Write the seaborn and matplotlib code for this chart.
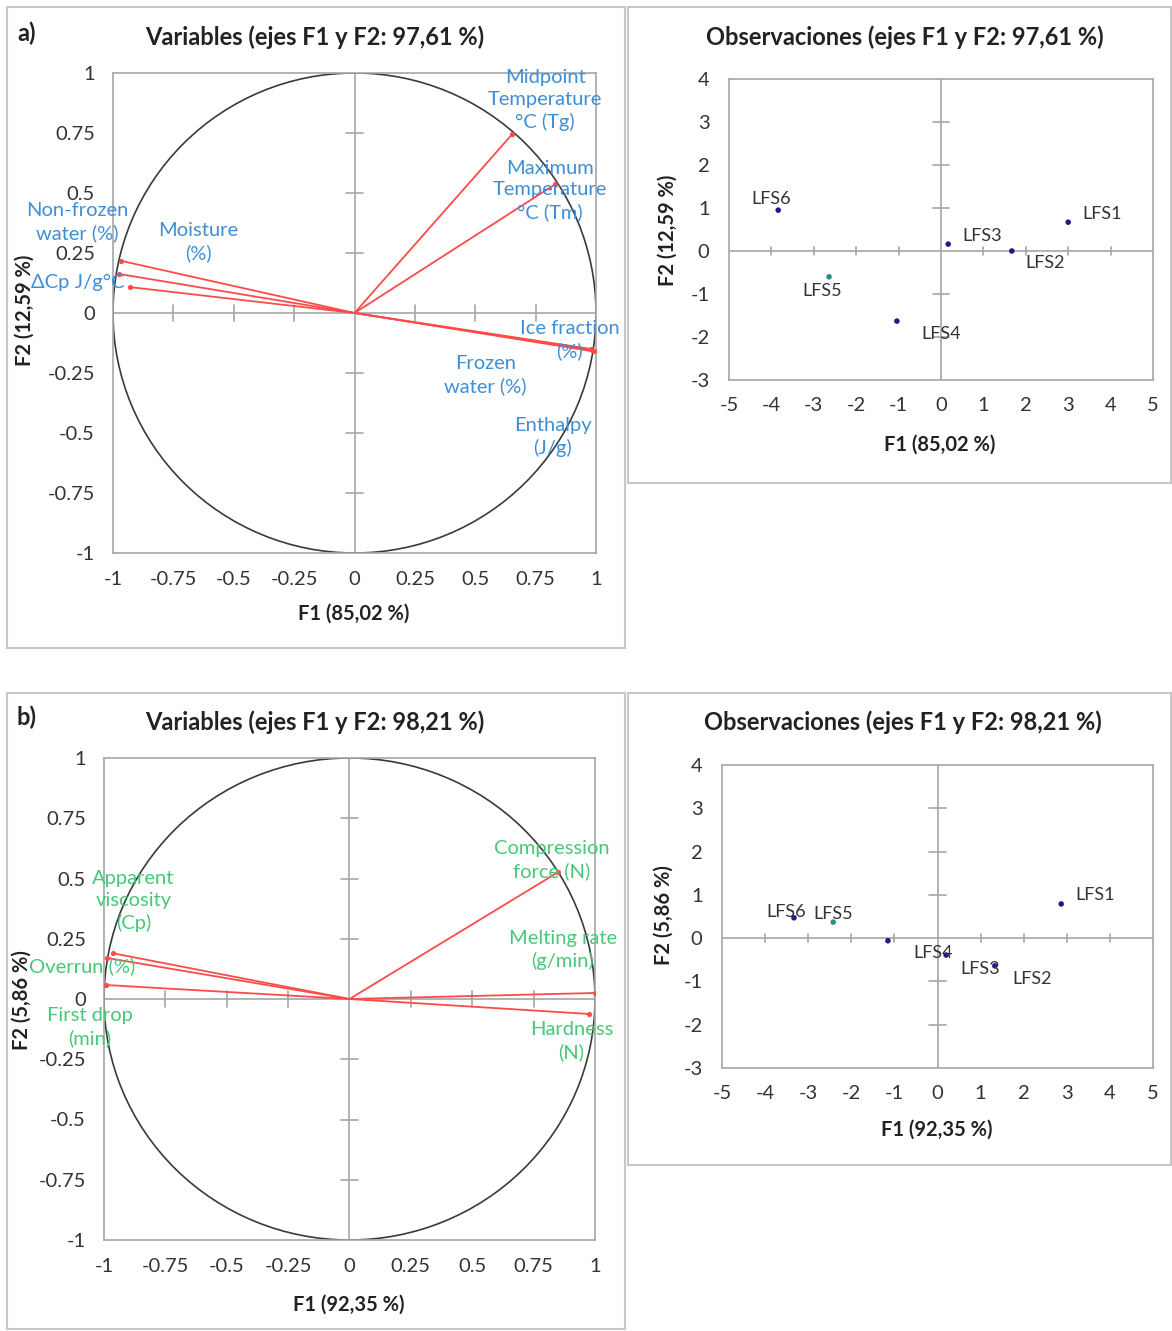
import numpy as np
import pandas as pd
import matplotlib
matplotlib.use('Agg')
import matplotlib.pyplot as plt
from matplotlib.patches import Circle, Rectangle
import seaborn as sns

# ---- dados ----
vars_a = ['Midpoint\nTemperature\n°C (Tg)', 'Maximum\nTemperature\n°C (Tm)', 'Ice fraction\n(%)',
          'Frozen\nwater (%)', 'Enthalpy\n(J/g)', 'Non-frozen\nwater (%)', 'Moisture\n(%)', 'ΔCp J/g°C']
f1_a = [0.654, 0.832, 0.990, 0.985, 0.980, -0.965, -0.977, -0.930]
f2_a = [0.746, 0.537, -0.160, -0.155, -0.150, 0.217, 0.163, 0.108]
lab_x_a = [0.79, 0.81, 0.89, 0.542, 0.82, -1.147, -0.646, -1.147]
lab_y_a = [0.888, 0.51, -0.112, -0.258, -0.517, 0.379, 0.296, 0.129]

vars_b = ['Compression\nforce (N)', 'Melting rate\n(g/min)', 'Hardness\n(N)',
          'Apparent\nviscosity\n(Cp)', 'Overrun (%)', 'First drop\n(min)']
f1_b = [0.851, 0.998, 0.974, -0.965, -0.986, -0.990]
f2_b = [0.527, 0.025, -0.062, 0.190, 0.170, 0.058]
lab_x_b = [0.823, 0.868, 0.904, -0.88, -1.088, -1.059]
lab_y_b = [0.577, 0.203, -0.174, 0.407, 0.137, -0.116]

obs = ['LFS1', 'LFS2', 'LFS3', 'LFS4', 'LFS5', 'LFS6']
grupo = ['a', 'a', 'a', 'a', 'b', 'a']
obs_f1_a = [3.00, 1.67, 0.17, -1.04, -2.64, -3.84]
obs_f2_a = [0.67, 0.00, 0.16, -1.63, -0.60, 0.95]
obs_lx_a = [3.8, 2.45, 0.97, 0.0, -2.8, -4.0]
obs_ly_a = [0.85, -0.27, 0.35, -1.93, -0.93, 1.22]

obs_f1_b = [2.87, -1.15, 1.33, 0.20, -2.42, -3.33]
obs_f2_b = [0.79, -0.06, -0.64, -0.39, 0.37, 0.47]
obs_lx_b = [3.65, 2.2, 1.0, -0.1, -2.42, -3.52]
obs_ly_b = [1.0, -0.95, -0.72, -0.35, 0.55, 0.6]

W, H = 1172, 1331
AZUL = '#3d8fd8'
VERDE = '#46c878'
VERMELHO = '#ff4a4a'
CINZA = '#a6a6a6'


def fx(px):
    return px / W


def fy(py):
    return 1 - py / H


def eixo_pixels(fig, x0, y0, x1, y1):
    return fig.add_axes([fx(x0), fy(y1), fx(x1) - fx(x0), fy(y0) - fy(y1)])


def estilo(ax, xlim, ylim, xt, yt, fmt, tick_len_x, tick_len_y, padx, pady):
    ax.set_xlim(xlim)
    ax.set_ylim(ylim)
    for s in ax.spines.values():
        s.set_color(CINZA)
        s.set_linewidth(1.2)
    ax.set_xticks(xt)
    ax.set_yticks(yt)
    ax.set_xticklabels([fmt(v) for v in xt])
    ax.set_yticklabels([fmt(v) for v in yt])
    ax.tick_params(axis='x', length=0, pad=padx, labelsize=14.5, colors='#333333')
    ax.tick_params(axis='y', length=0, pad=pady, labelsize=14.5, colors='#333333')
    ax.axhline(0, color=CINZA, lw=1.2, zorder=1)
    ax.axvline(0, color=CINZA, lw=1.2, zorder=1)
    # marcas no cruzamento dos eixos
    for v in xt:
        if v not in (0, xlim[0], xlim[1]):
            ax.plot([v, v], [-tick_len_y, tick_len_y], color=CINZA, lw=1.2, zorder=1)
    for v in yt:
        if v not in (0, ylim[0], ylim[1]):
            ax.plot([-tick_len_x, tick_len_x], [v, v], color=CINZA, lw=1.2, zorder=1)


def circulo(ax, f1, f2, nomes, lx, ly, cor):
    estilo(ax, (-1, 1), (-1, 1), np.arange(-1, 1.01, 0.25), np.arange(-1, 1.01, 0.25),
           lambda v: f'{v:g}', 0.035, 0.035, 13, 13)
    ax.add_patch(Circle((0, 0), 1, fill=False, color='#3a3a3a', lw=1.2, zorder=2))
    for x, y in zip(f1, f2):
        ax.plot([0, x], [0, y], color=VERMELHO, lw=1.3, zorder=3)
    d = pd.DataFrame({'F1': f1, 'F2': f2})
    sns.scatterplot(data=d, x='F1', y='F2', ax=ax, color=VERMELHO, s=14, edgecolor=VERMELHO,
                    linewidth=0, zorder=4, legend=False)
    for n, x, y in zip(nomes, lx, ly):
        ax.text(x, y, n, color=cor, fontsize=14.5, ha='center', va='center', linespacing=1.35, zorder=5)
    ax.set_xlabel('')
    ax.set_ylabel('')


def observacoes(ax, f1, f2, lx, ly):
    estilo(ax, (-5, 5), (-3, 4), range(-5, 6), range(-3, 5), lambda v: f'{v:g}',
           0.2, 0.09, 12, 14)
    d = pd.DataFrame({'F1': f1, 'F2': f2, 'grupo': grupo})
    sns.scatterplot(data=d, x='F1', y='F2', hue='grupo', palette={'a': '#1c1c8c', 'b': '#2b8f88'},
                    ax=ax, s=16, linewidth=0, zorder=4, legend=False)
    for n, x, y in zip(obs, lx, ly):
        ax.text(x, y, n, color='#333333', fontsize=13, ha='center', va='center', zorder=5)
    ax.set_xlabel('')
    ax.set_ylabel('')


sns.set_style('white')
plt.rcParams['font.family'] = ['Lato', 'DejaVu Sans']

fig = plt.figure(figsize=(W / 100, H / 100), dpi=100)

# molduras dos paineis
for (x0, y0, x1, y1) in [(7, 7, 625, 648), (628, 7, 1171, 483), (7, 693, 625, 1329), (628, 693, 1171, 1165)]:
    fig.add_artist(Rectangle((fx(x0), fy(y1)), fx(x1) - fx(x0), fy(y0) - fy(y1), transform=fig.transFigure,
                             fill=False, edgecolor='#c8c8c8', lw=1.5))

ax1 = eixo_pixels(fig, 113, 73, 596, 553)
circulo(ax1, f1_a, f2_a, vars_a, lab_x_a, lab_y_a, AZUL)
ax2 = eixo_pixels(fig, 729, 79, 1153, 380)
observacoes(ax2, obs_f1_a, obs_f2_a, obs_lx_a, obs_ly_a)
ax3 = eixo_pixels(fig, 104, 758, 595, 1240)
circulo(ax3, f1_b, f2_b, vars_b, lab_x_b, lab_y_b, VERDE)
ax4 = eixo_pixels(fig, 722, 765, 1153, 1068)
observacoes(ax4, obs_f1_b, obs_f2_b, obs_lx_b, obs_ly_b)

tit = dict(fontsize=17, fontweight='bold', color='#222222', ha='center', va='center')
lab = dict(fontsize=14.5, fontweight='bold', color='#222222', ha='center', va='center')

fig.text(fx(27), fy(33), 'a)', **tit)
fig.text(fx(27), fy(717), 'b)', **tit)
fig.text(fx(315), fy(37), 'Variables (ejes F1 y F2: 97,61 %)', **tit)
fig.text(fx(905), fy(37), 'Observaciones (ejes F1 y F2: 97,61 %)', **tit)
fig.text(fx(315), fy(722), 'Variables (ejes F1 y F2: 98,21 %)', **tit)
fig.text(fx(903), fy(722), 'Observaciones (ejes F1 y F2: 98,21 %)', **tit)

fig.text(fx(354), fy(614), 'F1 (85,02 %)', **lab)
fig.text(fx(25), fy(310), 'F2 (12,59 %)', rotation=90, **lab)
fig.text(fx(940), fy(445), 'F1 (85,02 %)', **lab)
fig.text(fx(668), fy(230), 'F2 (12,59 %)', rotation=90, **lab)

fig.text(fx(349), fy(1305), 'F1 (92,35 %)', **lab)
fig.text(fx(22), fy(1000), 'F2 (5,86 %)', rotation=90, **lab)
fig.text(fx(937), fy(1130), 'F1 (92,35 %)', **lab)
fig.text(fx(664), fy(915), 'F2 (5,86 %)', rotation=90, **lab)

fig.savefig('out.png', dpi=100)
